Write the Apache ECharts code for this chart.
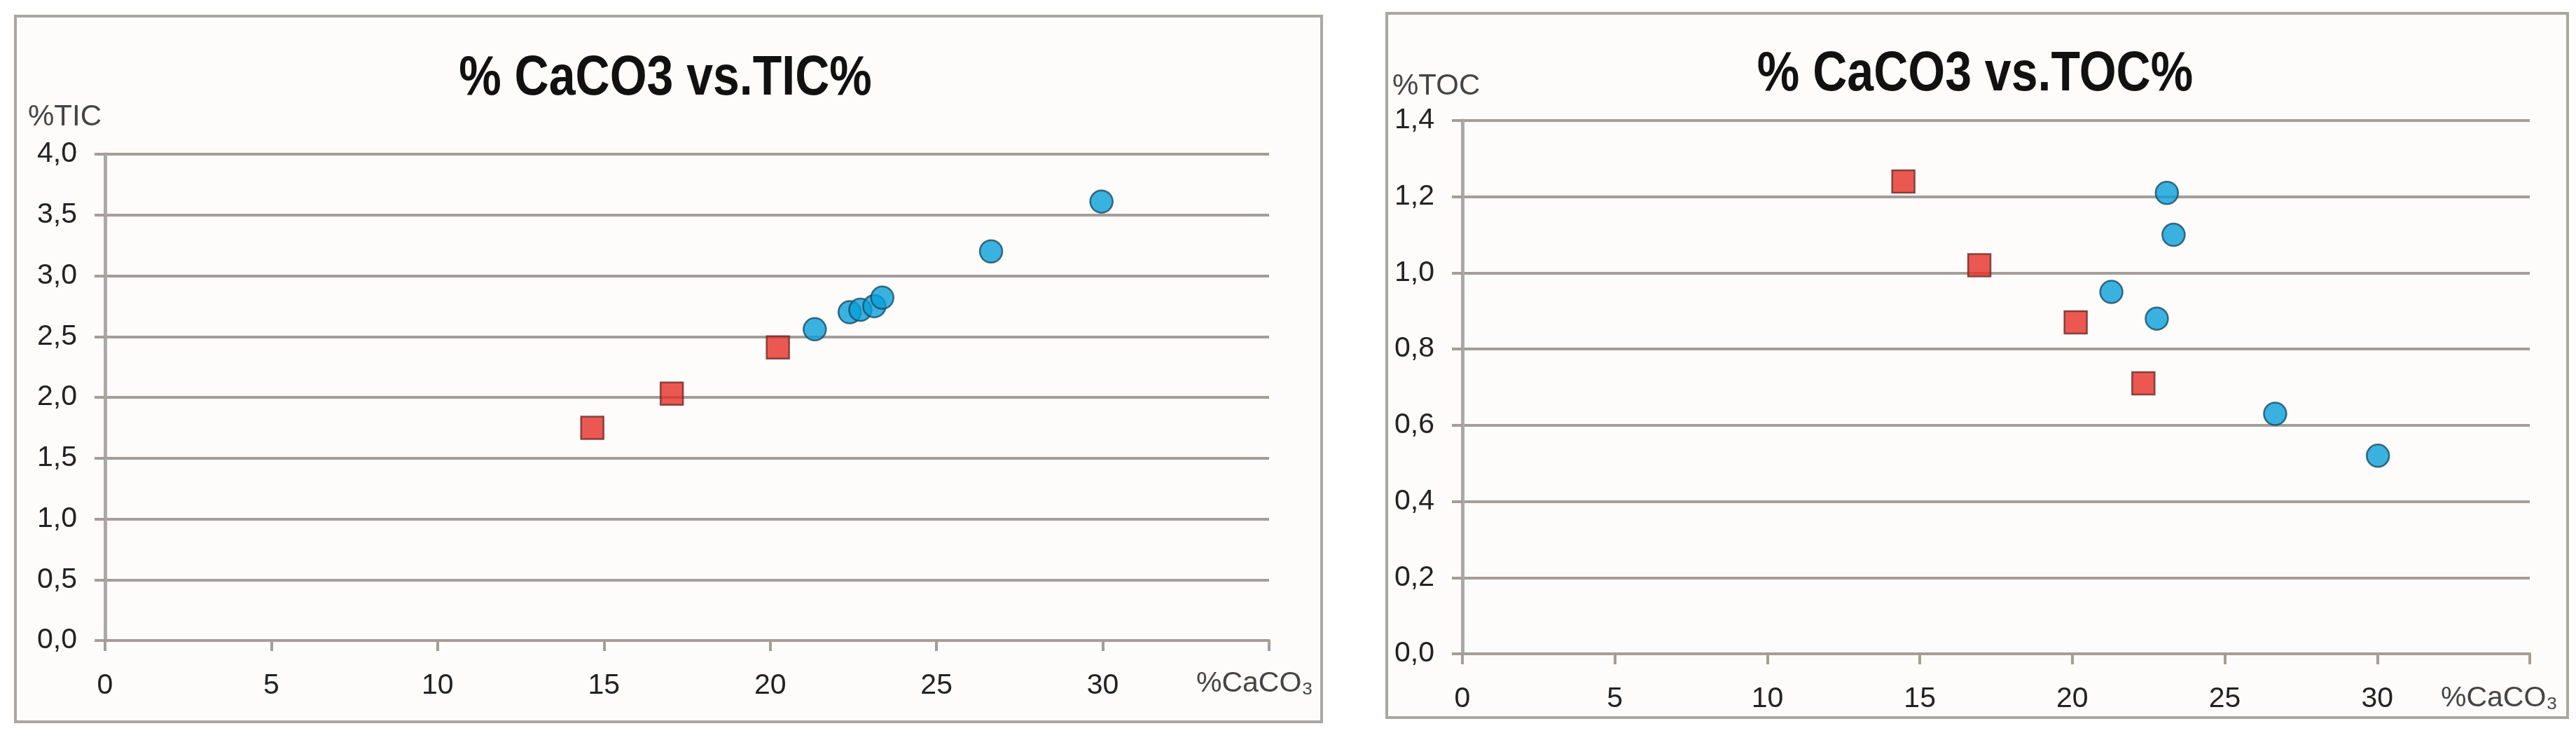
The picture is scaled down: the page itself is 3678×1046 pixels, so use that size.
<!DOCTYPE html>
<html>
<head>
<meta charset="utf-8">
<script src="https://cdn.jsdelivr.net/npm/echarts@6/dist/echarts.min.js"></script>
<style>
  html, body { margin: 0; padding: 0; background: #ffffff; }
  #container { width: 3678px; height: 1046px; }
</style>
</head>
<body>
<div id="container"></div>
<script>
let chart = echarts.init(document.getElementById('container'));

// TIC panel
var ticSquareX = [14.65, 17.04, 20.23];
var ticSquareY = [1.75, 2.03, 2.41];
var ticCircleX = [21.34, 22.39, 22.71, 23.13, 23.37, 26.64, 29.96];
var ticCircleY = [2.56, 2.70, 2.72, 2.75, 2.82, 3.20, 3.61];

// TOC panel
var tocSquareX = [14.46, 16.95, 20.11, 22.33];
var tocSquareY = [1.24, 1.02, 0.87, 0.71];
var tocCircleX = [21.28, 22.77, 23.10, 23.32, 26.65, 30.02];
var tocCircleY = [0.95, 0.88, 1.21, 1.10, 0.63, 0.52];

var titles = ['% CaCO3 vs.TIC%', '% CaCO3 vs.TOC%'];
var yNames = ['%TIC', '%TOC'];
var xName = '%CaCO\u2083';

var fontBase = "'Liberation Sans', Arial, sans-serif";
var gridColor = '#a39e98';

function pairs(xs, ys) {
    return xs.map((x, i) => [x, ys[i]]);
}

function commaLabel(value) {
    return value.toFixed(1).replace('.', ',');
}

function makeX(gridIndex) {
    return {
        type: 'value',
        gridIndex: gridIndex,
        min: 0,
        max: 35,
        interval: 5,
        axisLine: {show: true, lineStyle: {color: gridColor, width: 4}},
        axisTick: {show: true, length: 15, lineStyle: {color: gridColor, width: 4}},
        axisLabel: {
            margin: 44,
            fontSize: 41,
            fontFamily: fontBase,
            color: '#222',
            formatter: v => (v == 35 ? '' : String(v)),
        },
        splitLine: {show: false},
    };
}

function makeY(gridIndex, max, interval) {
    return {
        type: 'value',
        gridIndex: gridIndex,
        min: 0,
        max: max,
        interval: interval,
        axisLine: {show: true, lineStyle: {color: '#aca8a3', width: 5}},
        axisTick: {show: true, length: 15, lineStyle: {color: gridColor, width: 4}},
        axisLabel: {
            margin: 40,
            fontSize: 41,
            fontFamily: fontBase,
            color: '#222',
            formatter: commaLabel,
        },
        splitLine: {show: true, lineStyle: {color: gridColor, width: 4}},
    };
}

// narrow bold title, squeezed a bit to look like the condensed original
function titleText(text, x, y) {
    return {
        type: 'text', x: x, y: y, scaleX: 0.85,
        style: {
            text: text, x: 0, y: 0, align: 'center', verticalAlign: 'middle',
            font: "bold 80px 'Liberation Sans', Arial, sans-serif", fill: '#111',
        },
    };
}

var squareStyle = {color: '#e62e27', borderColor: '#6b2a25', borderWidth: 2.5};
var circleStyle = {color: '#089fda', borderColor: '#1c4a63', borderWidth: 2.5};

var option = {
    backgroundColor: '#ffffff',
    animation: false,
    graphic: [
        {type: 'rect', z: -10, shape: {x: 22, y: 23, width: 1865, height: 1007},
         style: {fill: '#fdfcfb', stroke: '#aaa6a1', lineWidth: 4}},
        {type: 'rect', z: -10, shape: {x: 1980, y: 19, width: 1686, height: 1005},
         style: {fill: '#fdfcfb', stroke: '#aaa6a1', lineWidth: 4}},
        titleText(titles[0], 950, 113),
        titleText(titles[1], 2820, 107),
        {type: 'text', left: 40, top: 146,
         style: {text: yNames[0], font: "42px 'Liberation Sans', Arial, sans-serif", fill: '#444'}},
        {type: 'text', left: 1988, top: 102,
         style: {text: yNames[1], font: "42px 'Liberation Sans', Arial, sans-serif", fill: '#444'}},
        {type: 'text', left: 1708, top: 955,
         style: {text: xName, font: "41px 'Liberation Sans', Arial, sans-serif", fill: '#444'}},
        {type: 'text', left: 3485, top: 976,
         style: {text: xName, font: "41px 'Liberation Sans', Arial, sans-serif", fill: '#444'}},
    ],
    grid: [
        {left: 150, top: 220, width: 1662, height: 694},
        {left: 2088, top: 172, width: 1524, height: 761},
    ],
    xAxis: [makeX(0), makeX(1)],
    yAxis: [makeY(0, 4, 0.5), makeY(1, 1.4, 0.2)],
    series: [
        {type: 'scatter', xAxisIndex: 0, yAxisIndex: 0, symbol: 'rect', symbolSize: 32,
         itemStyle: squareStyle, data: pairs(ticSquareX, ticSquareY)},
        {type: 'scatter', xAxisIndex: 0, yAxisIndex: 0, symbol: 'circle', symbolSize: 32,
         itemStyle: circleStyle, data: pairs(ticCircleX, ticCircleY)},
        {type: 'scatter', xAxisIndex: 1, yAxisIndex: 1, symbol: 'rect', symbolSize: 32,
         itemStyle: squareStyle, data: pairs(tocSquareX, tocSquareY)},
        {type: 'scatter', xAxisIndex: 1, yAxisIndex: 1, symbol: 'circle', symbolSize: 32,
         itemStyle: circleStyle, data: pairs(tocCircleX, tocCircleY)},
    ],
};

chart.setOption(option);
</script>
</body>
</html>
